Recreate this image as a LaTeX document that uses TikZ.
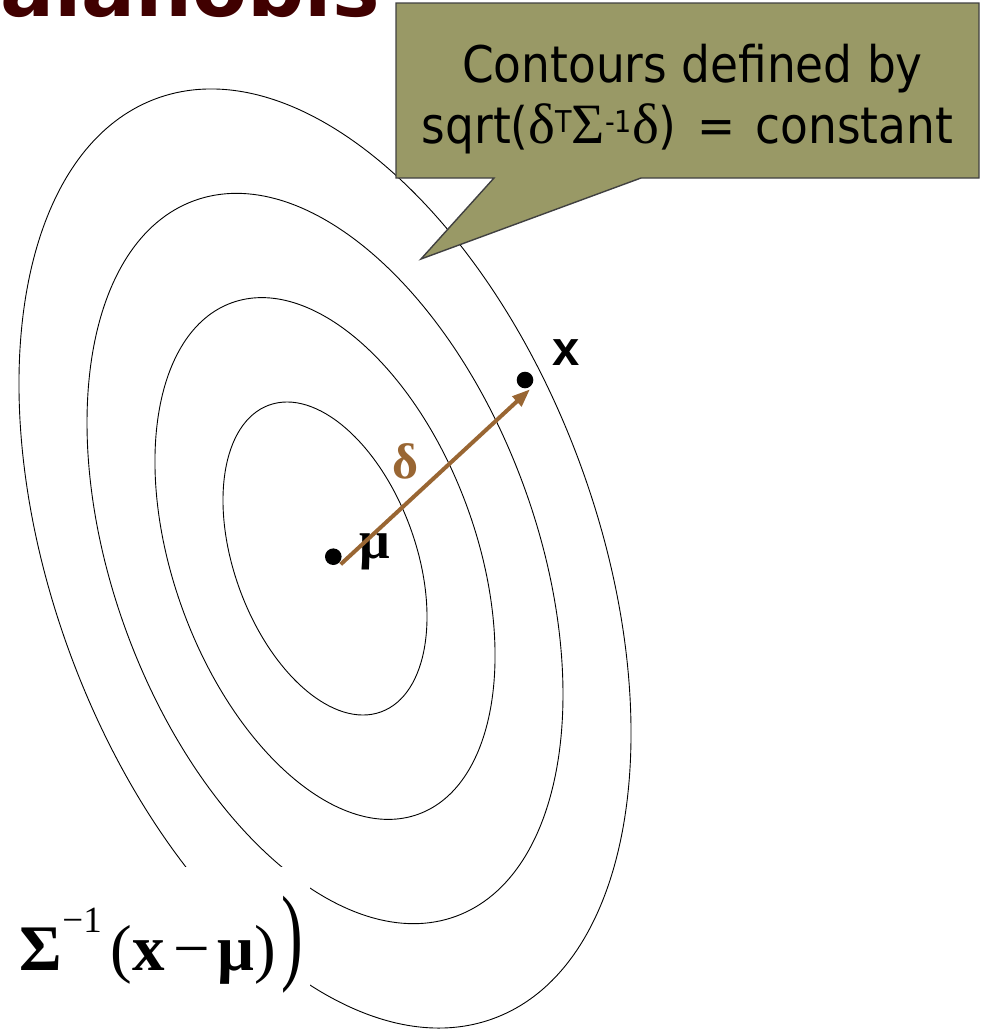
\documentclass[tikz,border=0pt]{standalone}
\usepackage{fontspec}
\usepackage{graphicx}
\usetikzlibrary{arrows.meta}
\newfontfamily\tah{DejaVu Sans Condensed}
\newfontfamily\verd{DejaVu Sans}
\newfontfamily\tnr{Liberation Serif}
\newfontfamily\arl{Liberation Sans}
\definecolor{olivebox}{RGB}{153,153,102}
\definecolor{brownarr}{RGB}{153,102,51}
\definecolor{titlered}{RGB}{64,0,0}
\newcommand{\gk}[1]{{\tnr\fontsize{57}{57}\selectfont #1}}
\newcommand{\supr}[1]{\raisebox{11pt}{\fontsize{30}{30}\selectfont #1}}
\begin{document}
\begin{tikzpicture}[x=1pt,y=-1pt,
  ell/.style={draw=black,line width=0.9pt},
  callout/.style={fill=olivebox,draw=black!75,line width=1.4pt,line join=miter},
  boxtext/.style={inner sep=0pt,font=\tah\fontsize{50.5}{50.5}\selectfont},
  dot/.style={circle,fill=black,inner sep=0pt,minimum size=16.6pt},
  vec/.style={draw=brownarr,line width=4pt,-{Triangle[length=18pt,width=13pt]}},
  ttl/.style={inner sep=0pt,text=titlered,font=\verd\bfseries\fontsize{80}{80}\selectfont},
  frm/.style={inner sep=0pt,font=\tnr\fontsize{65}{65}\selectfont}]
\useasboundingbox (0,0) rectangle (981,1029);
% title (cut off by the top edge)
\node[ttl,anchor=base east] (title) at (380,16) {Mahalanobis};
% contours
\foreach \b/\a in {90.7/163.3,151.2/272.2,211.6/381.0,272.1/489.9}
  \draw[ell,rotate around={20.1:(325,558.5)}] (325,558.5) ellipse [x radius=\b pt,y radius=\a pt];
% callout
\path[callout] (396,3) -- (979,3) -- (979,178) -- (641,178) -- (421,259) -- (494,178) -- (396,178) -- cycle;
\node[boxtext,anchor=base] (line1) at (692.5,82) {Contours defined by};
\node[boxtext,anchor=base] (line2) at (687.5,143) {sqrt(\gk{δ}\supr{T}\gk{Σ}\supr{-1}\gk{δ})\hspace{6pt} = \hspace{6pt}constant};
% points
\node[dot] (mu) at (333.3,556.7) {};
\node[dot] (xp) at (525,380) {};
\node[inner sep=0pt,anchor=base,font=\tnr\bfseries\fontsize{54}{54}\selectfont] (mulab) at (375,558) {μ};
\node[inner sep=0pt,anchor=base,font=\arl\bfseries\fontsize{49}{49}\selectfont] (xlab) at (566.5,365) {x};
\coordinate (vs) at (340.7,564.3);
\coordinate (ve) at (530,389.3);
\draw[vec] (vs) -- (ve);
\node[inner sep=0pt,anchor=base,text=brownarr,font=\tnr\bfseries\fontsize{50}{50}\selectfont] (dlab) at (405,478) {δ};
% formula (cut off at the left)
\fill[white] (0,867) rectangle (310,1029);
\node[frm,anchor=base east] (formula) at (303,970) {\raisebox{38pt}{\fontsize{37}{37}\selectfont T}\hspace{20pt}{\bfseries Σ}\raisebox{38pt}{\fontsize{37}{37}\selectfont −1}\hspace{9pt}({\bfseries x}\hspace{8pt}−\hspace{8pt}{\bfseries μ})\hspace{5pt}\scalebox{1}[1.65]{)}};
\end{tikzpicture}
\end{document}
